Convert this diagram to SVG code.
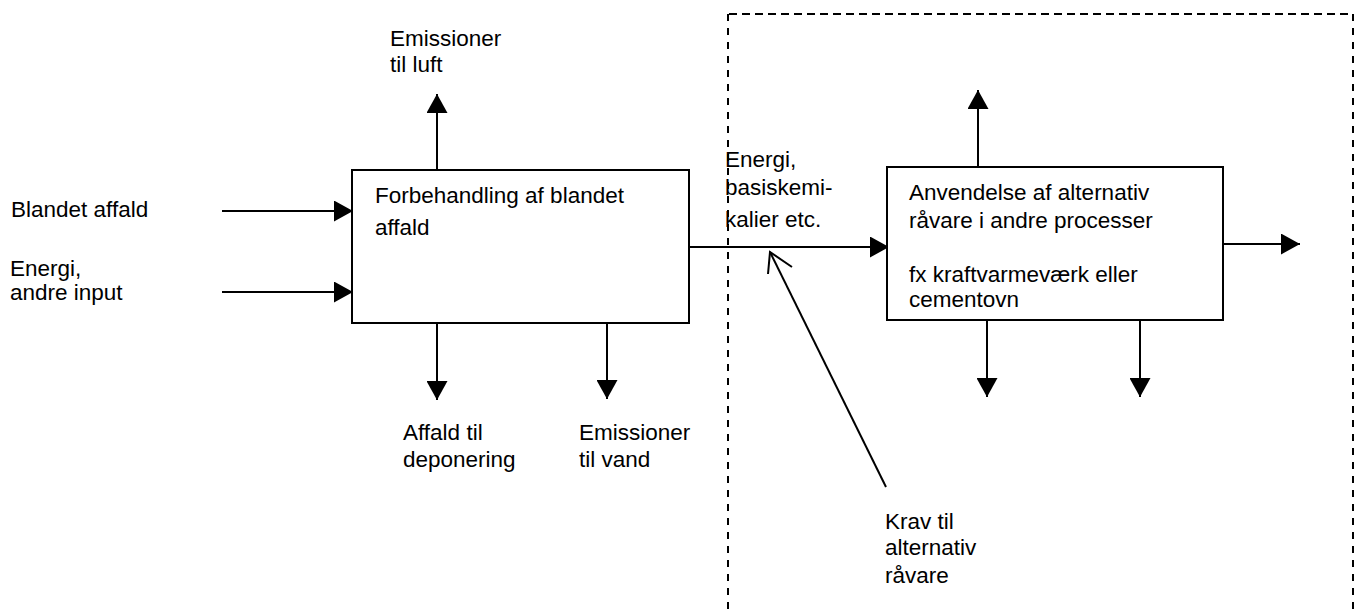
<svg xmlns="http://www.w3.org/2000/svg" width="1359" height="612" viewBox="0 0 1359 612">
  <style>
    text { font-family: "Liberation Sans", Arial, sans-serif; font-size: 22.5px; fill: #000; }
    .box { fill: #fff; stroke: #000; stroke-width: 2; }
    .flow { fill: none; stroke: #000; stroke-width: 2; }
    .boundary { fill: none; stroke: #000; stroke-width: 2; }
  </style>
  <defs>
    <marker id="head" viewBox="0 0 19 21" refX="19" refY="10.5" markerWidth="19" markerHeight="21" markerUnits="userSpaceOnUse" orient="auto">
      <path d="M0,0 L19,10.5 L0,21 Z" fill="#000"/>
    </marker>
  </defs>

  <!-- system boundary (dashed) -->
  <g id="boundary">
    <line class="boundary" x1="729" y1="14" x2="1353" y2="14" stroke-dasharray="8,5"/>
    <line class="boundary" x1="728" y1="14" x2="728" y2="612" stroke-dasharray="7,7"/>
    <line class="boundary" x1="1353" y1="14" x2="1353" y2="612" stroke-dasharray="7,7"/>
  </g>

  <g id="connectors">
    <!-- inputs to pre-treatment -->
    <line class="flow" x1="222" y1="211" x2="353" y2="211" marker-end="url(#head)"/>
    <line class="flow" x1="222" y1="292" x2="353" y2="292" marker-end="url(#head)"/>
    <!-- pre-treatment outputs -->
    <line class="flow" x1="437" y1="170" x2="437" y2="94" marker-end="url(#head)"/>
    <line class="flow" x1="437" y1="323" x2="437" y2="400" marker-end="url(#head)"/>
    <line class="flow" x1="607" y1="323" x2="607" y2="399" marker-end="url(#head)"/>
    <!-- alternative raw material to use in other processes -->
    <line class="flow" x1="689" y1="247" x2="889" y2="247" marker-end="url(#head)"/>
    <!-- other process outputs -->
    <line class="flow" x1="978" y1="167" x2="978" y2="90" marker-end="url(#head)"/>
    <line class="flow" x1="1223" y1="244" x2="1300" y2="244" marker-end="url(#head)"/>
    <line class="flow" x1="987" y1="320" x2="987" y2="397" marker-end="url(#head)"/>
    <line class="flow" x1="1140" y1="320" x2="1140" y2="397" marker-end="url(#head)"/>
    <!-- requirements pointer with open head -->
    <line class="flow" x1="886" y1="487" x2="770" y2="252"/>
    <polyline class="flow" points="768,274 770,252 792,267"/>
  </g>

  <g id="pretreatment">
    <rect class="box" x="352" y="170" width="337" height="153"/>
    <text x="375" y="203">Forbehandling af blandet</text>
    <text x="375" y="235">affald</text>
  </g>

  <g id="use-in-processes">
    <rect class="box" x="887" y="167" width="336" height="153"/>
    <text x="909" y="200">Anvendelse af alternativ</text>
    <text x="909" y="228">råvare i andre processer</text>
    <text x="909" y="282">fx kraftvarmeværk eller</text>
    <text x="909" y="307">cementovn</text>
  </g>

  <g id="labels">
    <text x="390" y="46">Emissioner</text>
    <text x="390" y="72">til luft</text>
    <text x="11" y="217">Blandet affald</text>
    <text x="10" y="276">Energi,</text>
    <text x="10" y="300">andre input</text>
    <text x="403" y="440">Affald til</text>
    <text x="403" y="467">deponering</text>
    <text x="579" y="440">Emissioner</text>
    <text x="579" y="467">til vand</text>
    <text x="725" y="167">Energi,</text>
    <text x="725" y="195">basiskemi-</text>
    <text x="725" y="227">kalier etc.</text>
    <text x="885" y="529">Krav til</text>
    <text x="885" y="555">alternativ</text>
    <text x="885" y="583">råvare</text>
  </g>
</svg>
